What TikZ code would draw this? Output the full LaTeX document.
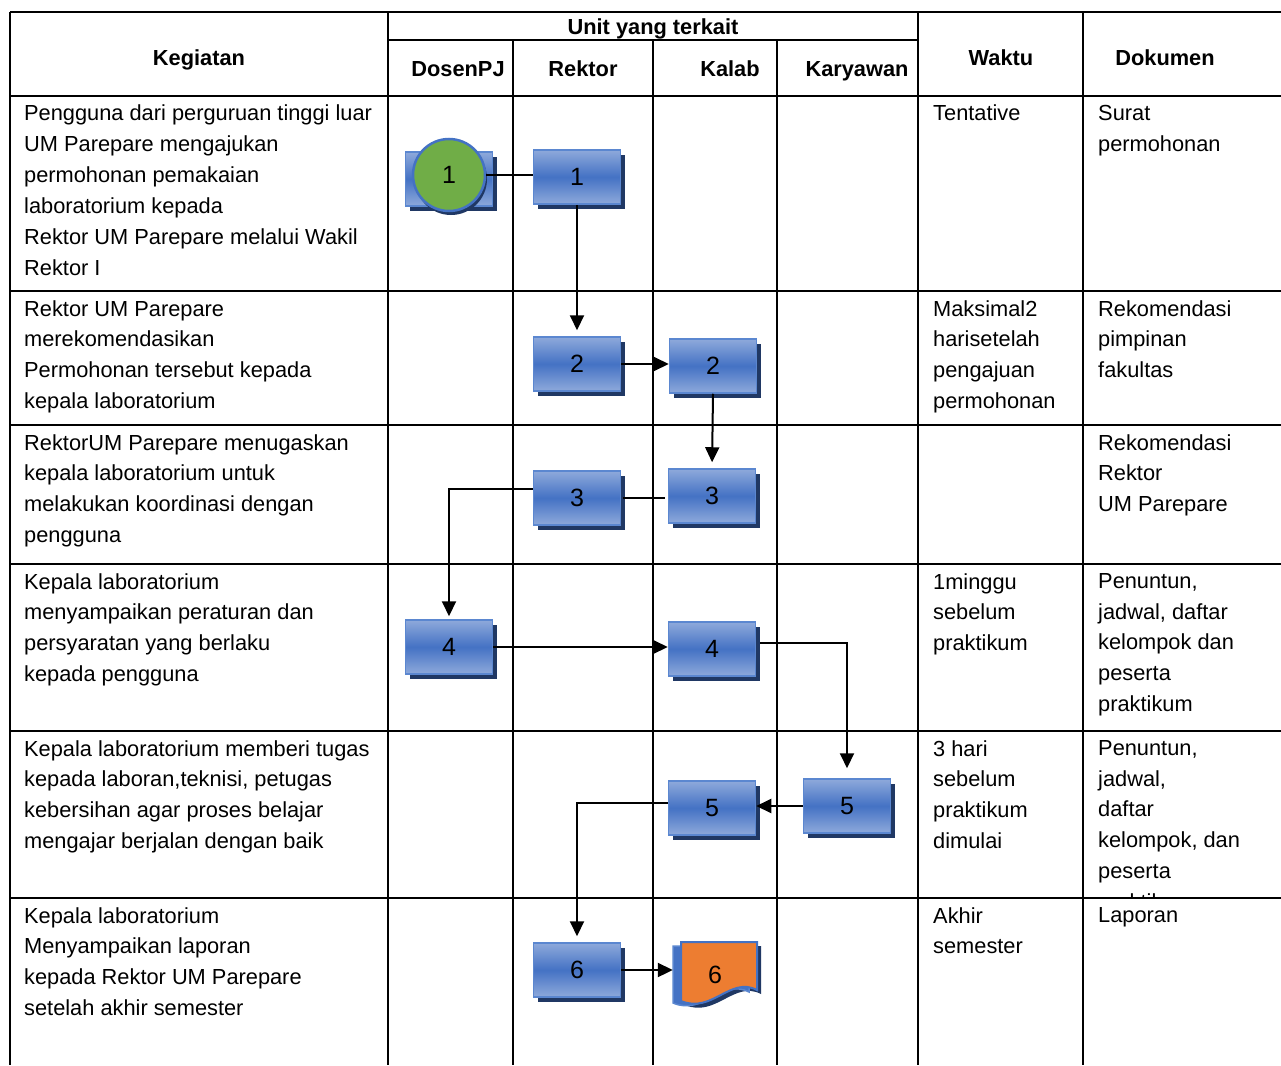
\documentclass[tikz,border=0pt]{standalone}
\usepackage{fontspec}
\setmainfont{Liberation Sans}
\usetikzlibrary{arrows.meta, calc, shadows}
\definecolor{boxblue}{HTML}{4472C4}
\definecolor{boxlight}{HTML}{8EA9DB}
\definecolor{boxedge}{HTML}{5B87D0}
\definecolor{navy}{HTML}{203864}
\definecolor{stgreen}{HTML}{70AD47}
\definecolor{docorange}{HTML}{ED7D31}

\begin{document}
\begin{tikzpicture}[x=1pt, y=-1pt, >={Triangle[length=15pt, width=14pt]},
  flowbox/.style={rectangle, minimum width=87pt, minimum height=54pt, inner sep=0pt,
    draw=boxedge, line width=1.5pt, top color=boxlight, bottom color=boxlight,
    middle color=boxblue,
    drop shadow={shadow xshift=4pt, shadow yshift=-5pt, fill=navy, opacity=1},
    font=\fontsize{25}{25}\selectfont},
  startnode/.style={circle, minimum size=72pt, inner sep=0pt, fill=stgreen,
    draw=boxblue, line width=2.5pt,
    drop shadow={shadow xshift=2pt, shadow yshift=-4pt, fill=navy, opacity=1},
    font=\fontsize{25}{25}\selectfont},
  celltext/.style={anchor=north west, align=left, inner sep=0pt,
    font=\fontsize{21.8}{30.8}\selectfont},
  hdrtext/.style={anchor=base, inner sep=0pt,
    font=\fontsize{21.8}{26}\selectfont\bfseries},
  grid/.style={black, line width=2pt},
  flow/.style={black, line width=2pt},
  downflow/.style={flow, ->, shorten >=6pt}]

\useasboundingbox (0,0) rectangle (1281,1065);

% ================================================================
% Table grid
% ================================================================
\draw[grid] (10,12) -- (1281,12);
\draw[grid] (388,40) -- (918,40);
\foreach \y in {96,291,425,564,731,898}
  \draw[grid] (10,\y) -- (1281,\y);
\foreach \x in {10,388,918,1083}
  \draw[grid] (\x,12) -- (\x,1065);
\foreach \x in {513,653,777}
  \draw[grid] (\x,40) -- (\x,1065);

% Header
\node[hdrtext] (hkeg) at (199,66) {Kegiatan};
\node[hdrtext] (hunit) at (653,35) {Unit yang terkait};
\node[hdrtext] (hdos) at (458,76) {DosenPJ};
\node[hdrtext] (hrek) at (583,76) {Rektor};
\node[hdrtext] (hkal) at (730,76) {Kalab};
\node[hdrtext] (hkar) at (857,76) {Karyawan};
\node[hdrtext] (hwak) at (1001,66) {Waktu};
\node[hdrtext] (hdok) at (1165,66) {Dokumen};

% ================================================================
% Kegiatan column
% ================================================================
\node[celltext] (keg1) at (24,105) {Pengguna dari perguruan tinggi luar\\
  UM Parepare mengajukan\\permohonan pemakaian\\laboratorium kepada\\
  Rektor UM Parepare melalui Wakil\\Rektor I};
\node[celltext] (keg2) at (24,300) {Rektor UM Parepare\\merekomendasikan\\
  Permohonan tersebut kepada\\kepala laboratorium};
\node[celltext] (keg3) at (24,434) {RektorUM Parepare menugaskan\\
  kepala laboratorium untuk\\melakukan koordinasi dengan\\pengguna};
\node[celltext] (keg4) at (24,573) {Kepala laboratorium\\
  menyampaikan peraturan dan\\persyaratan yang berlaku\\kepada pengguna};
\node[celltext] (keg5) at (24,740) {Kepala laboratorium memberi tugas\\
  kepada laboran,teknisi, petugas\\kebersihan agar proses belajar\\
  mengajar berjalan dengan baik};
\node[celltext] (keg6) at (24,907) {Kepala laboratorium\\Menyampaikan laporan\\
  kepada Rektor UM Parepare\\setelah akhir semester};

% ================================================================
% Waktu and Dokumen columns
% ================================================================
\node[celltext] (wak1) at (933,105) {Tentative};
\node[celltext] (wak2) at (933,300) {Maksimal2\\harisetelah\\pengajuan\\permohonan};
\node[celltext] (wak4) at (933,573) {1minggu\\sebelum\\praktikum};
\node[celltext] (wak5) at (933,740) {3 hari\\sebelum\\praktikum\\dimulai};
\node[celltext] (wak6) at (933,907) {Akhir\\semester};

\node[celltext] (dok1) at (1098,105) {Surat\\permohonan};
\node[celltext] (dok2) at (1098,300) {Rekomendasi\\pimpinan\\fakultas};
\node[celltext] (dok3) at (1098,434) {Rekomendasi\\Rektor\\UM Parepare};
\node[celltext] (dok4) at (1098,573) {Penuntun,\\jadwal, daftar\\kelompok dan\\peserta\\praktikum};
\begin{scope}
  \clip (1085,733) rectangle (1281,897);
  \node[celltext] (dok5) at (1098,740) {Penuntun,\\jadwal,\\daftar\\kelompok, dan\\peserta\\praktikum};
\end{scope}
\node[celltext] (dok6) at (1098,907) {Laporan};

% ================================================================
% Flow boxes
% ================================================================
\node[flowbox] (d1) at (449,179) {};
\node[startnode] (s1) at (449,175) {1};
\node[flowbox] (r1) at (577,177) {1};
\node[flowbox] (r2) at (577,364) {2};
\node[flowbox] (k2) at (713,366) {2};
\node[flowbox] (r3) at (577,498) {3};
\node[flowbox] (k3) at (712,496) {3};
\node[flowbox] (d4) at (449,647) {4};
\node[flowbox] (k4) at (712,649) {4};
\node[flowbox] (c5) at (847,806) {5};
\node[flowbox] (k5) at (712,808) {5};
\node[flowbox] (r6) at (577,970) {6};

% document shape (Kalab, row 6)
\fill[navy] (685,946) -- (761,946) -- (761,994)
  .. controls (734,980) and (716,1018) .. (685,1005) -- cycle;
\filldraw[fill=boxblue, draw=boxedge, line width=1.5pt] (673,946) -- (749,946) -- (749,992)
  .. controls (722,978) and (704,1016) .. (673,1003) -- cycle;
\filldraw[fill=docorange, draw=boxblue, line width=2pt] (681,942) -- (757,942) -- (757,990)
  .. controls (730,976) and (712,1014) .. (681,1001) -- cycle;
\node[minimum width=84pt, minimum height=54pt, inner sep=0pt,
  font=\fontsize{25}{25}\selectfont] (k6) at (715,975) {6};

% ================================================================
% Connectors
% ================================================================
\draw[flow, line width=1.5pt] (s1.east) -- (s1.east -| r1.west);
\draw[downflow] (r1.south) -- (r2.north);
\draw[flow, ->] (r2.east) -- (r2.east -| k2.west);
\draw[downflow] (k2.south) -- (k3.north);
\draw[flow, line width=1.2pt] ([xshift=2pt]r3.east) -- ([xshift=-3pt]r3.east -| k3.west);
\draw[flow, ->, shorten >=3pt] ([yshift=9pt]r3.west) -| (d4.north);
\draw[flow, ->] (d4.east) -- (d4.east -| k4.west);
\draw[downflow, shorten >=10pt] ([xshift=4pt, yshift=6pt]k4.east) -| (c5.north);
\draw[flow, ->] (c5.west) -- (c5.west -| k5.east);
\draw[downflow] ([yshift=5pt]k5.west) -| (r6.north);
\draw[flow, ->] (r6.east) -- (r6.east -| k6.west);

\end{tikzpicture}
\end{document}
